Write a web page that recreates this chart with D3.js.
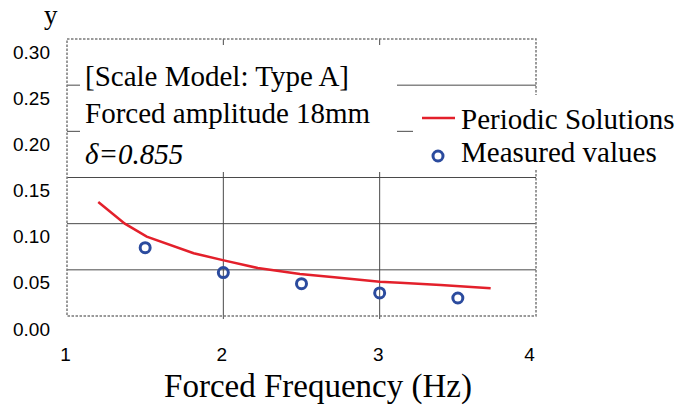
<!DOCTYPE html>
<html>
<head>
<meta charset="utf-8">
<script src="https://cdn.jsdelivr.net/npm/d3@7"></script>
<style>
  body { margin: 0; background: #fff; }
</style>
</head>
<body>
<div id="chart"></div>
<script>
const WIDTH = 696
const HEIGHT = 411

// periodic solution curve
const lineFreq = [1.2, 1.37, 1.51, 1.81, 2.01, 2.22, 2.49, 2.71, 3.0, 3.13, 3.39, 3.71];
const lineY = [0.1235, 0.100, 0.086, 0.068, 0.060, 0.052, 0.0455, 0.042, 0.037, 0.036, 0.0335, 0.030];

// measured points
const measFreq = [1.5, 2.0, 2.5, 3.0, 3.5];
const measY = [0.074, 0.047, 0.035, 0.025, 0.0195];

const xTicks = [1, 2, 3, 4];
const yTicks = [0, 0.05, 0.10, 0.15, 0.20, 0.25, 0.30];
const boxLines = ["[Scale Model: Type A]", "Forced amplitude 18mm"];
const legendNames = ["Periodic Solutions", "Measured values"];

const RED = "#e3202b";
const BLUE = "#2b4b9e";

var svg = d3.select("#chart").append("svg")
    .attr("width", WIDTH)
    .attr("height", HEIGHT);

var xScale = d3.scaleLinear().domain([1, 4]).range([67, 536]);
var yScale = d3.scaleLinear().domain([0, 0.3]).range([316, 39]);

// grid lines
var grid = svg.append("g");
grid.selectAll("line.h")
    .data(yTicks.slice(1, 6))
    .enter().append("line")
    .attr("x1", xScale(1)).attr("x2", xScale(4))
    .attr("y1", d => yScale(d)).attr("y2", d => yScale(d))
    .attr("stroke", "#4a4a4a").attr("stroke-width", 1);
grid.selectAll("line.v")
    .data(xTicks.slice(1, 3))
    .enter().append("line")
    .attr("x1", d => xScale(d)).attr("x2", d => xScale(d))
    .attr("y1", yScale(0.3)).attr("y2", yScale(0) + 3)
    .attr("stroke", "#4a4a4a").attr("stroke-width", 1);

// dashed frame
svg.append("rect")
    .attr("x", xScale(1)).attr("y", yScale(0.3))
    .attr("width", xScale(4) - xScale(1))
    .attr("height", yScale(0) - yScale(0.3))
    .attr("fill", "none")
    .attr("stroke", "#7a7a7a")
    .attr("stroke-width", 1.5)
    .attr("stroke-dasharray", "2.5,1.5");

// white boxes covering the grid
svg.append("rect").attr("x", 80).attr("y", 45).attr("width", 317).attr("height", 127).attr("fill", "#fff");
svg.append("rect").attr("x", 413).attr("y", 95).attr("width", 283).attr("height", 74).attr("fill", "#fff");

// axes (labels only)
var yAxis = svg.append("g")
    .attr("transform", "translate(50,0)")
    .call(d3.axisLeft(yScale).tickValues(yTicks).tickFormat(d3.format(".2f")).tickSize(0));
yAxis.select(".domain").remove();
yAxis.selectAll("text")
    .attr("dy", "1.0em")
    .attr("x", 0)
    .attr("font-family", "'Liberation Sans', Arial, sans-serif")
    .attr("font-size", "19px")
    .attr("fill", "#000");

var xAxis = svg.append("g")
    .attr("transform", "translate(-2,347)")
    .call(d3.axisBottom(xScale).tickValues(xTicks).tickFormat(d3.format("d")).tickSize(0));
xAxis.select(".domain").remove();
xAxis.selectAll("text")
    .attr("y", 0)
    .attr("dy", "0.71em")
    .attr("font-family", "'Liberation Sans', Arial, sans-serif")
    .attr("font-size", "19px")
    .attr("fill", "#000");
xAxis.selectAll(".tick").filter(d => d === 4).select("text").attr("dx", -5);

// series
var line = d3.line()
    .x((d, i) => xScale(lineFreq[i]))
    .y(d => yScale(d));

svg.append("path")
    .datum(lineY)
    .attr("fill", "none")
    .attr("stroke", RED)
    .attr("stroke-width", 2.5)
    .attr("d", line);

svg.selectAll("circle.meas")
    .data(measY)
    .enter().append("circle")
    .attr("cx", (d, i) => xScale(measFreq[i]))
    .attr("cy", d => yScale(d))
    .attr("r", 5)
    .attr("fill", "none")
    .attr("stroke", BLUE)
    .attr("stroke-width", 3);

// text box
var serif = "'Liberation Serif', 'Times New Roman', serif";
svg.selectAll("text.box")
    .data(boxLines)
    .enter().append("text")
    .attr("x", 85)
    .attr("y", (d, i) => 86 + i * 37)
    .attr("font-family", serif)
    .attr("font-size", "29px")
    .attr("fill", "#000")
    .text(d => d);
svg.append("text")
    .attr("x", 85).attr("y", 164)
    .attr("font-family", serif)
    .attr("font-size", "29px")
    .attr("font-style", "italic")
    .attr("fill", "#000")
    .text("\u03b4=0.855");

// legend
var legend = svg.append("g");
legend.append("line")
    .attr("x1", 422).attr("x2", 455)
    .attr("y1", 118).attr("y2", 118)
    .attr("stroke", RED).attr("stroke-width", 2.5);
legend.append("circle")
    .attr("cx", 438).attr("cy", 156).attr("r", 5)
    .attr("fill", "none").attr("stroke", BLUE).attr("stroke-width", 3);
legend.selectAll("text")
    .data(legendNames)
    .enter().append("text")
    .attr("x", 461)
    .attr("y", (d, i) => 129 + i * 33)
    .attr("font-family", serif)
    .attr("font-size", "29px")
    .attr("fill", "#000")
    .text(d => d);

// axis titles
svg.append("text")
    .attr("x", 44).attr("y", 24)
    .attr("font-family", serif)
    .attr("font-size", "27px")
    .attr("fill", "#000")
    .text("y");
svg.append("text")
    .attr("x", 318).attr("y", 397)
    .attr("text-anchor", "middle")
    .attr("font-family", serif)
    .attr("font-size", "33px")
    .attr("fill", "#000")
    .text("Forced Frequency (Hz)");
</script>
</body>
</html>
